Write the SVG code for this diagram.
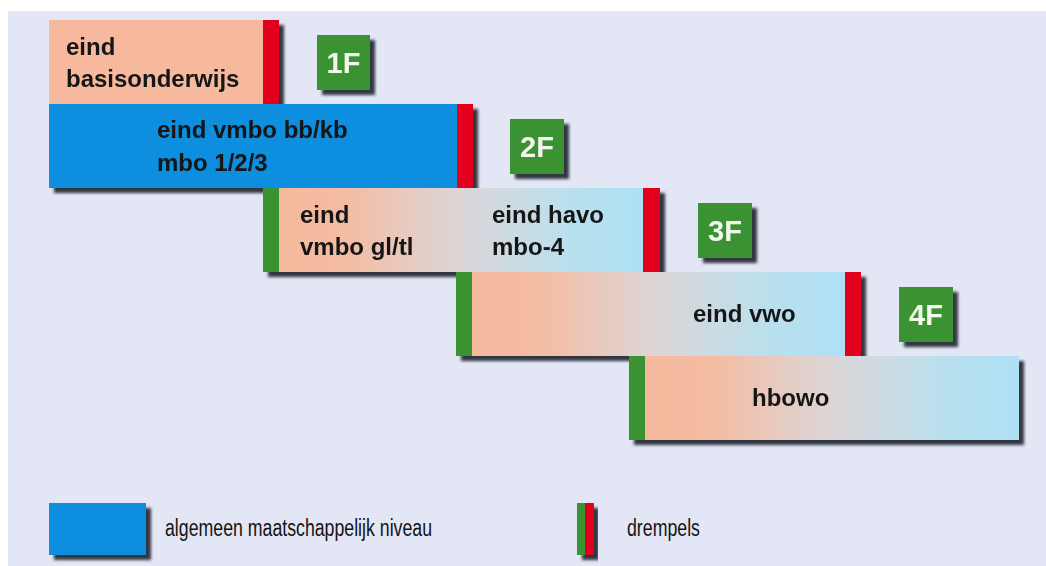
<svg xmlns="http://www.w3.org/2000/svg" width="1046" height="566" viewBox="0 0 1046 566">
<defs>
<style>
.lbl{font-family:"Liberation Sans",Arial,sans-serif;font-weight:bold;font-size:24px;fill:#141414}
.badge-t{font-family:"Liberation Sans",Arial,sans-serif;font-weight:bold;font-size:29px;fill:#f2f8ec;text-anchor:middle}
.leg{font-family:"Liberation Sans",Arial,sans-serif;font-size:23px;fill:#141414}
.peach{fill:#f6b99e}
.blue{fill:#0b8ede}
.red{fill:#e2001a}
.green{fill:#3a9232}
.grad{fill:url(#g)}
</style>
<linearGradient id="g" x1="0" y1="0" x2="1" y2="0">
<stop offset="0" stop-color="#f6b99e"/>
<stop offset="0.18" stop-color="#f4bca2"/>
<stop offset="0.5" stop-color="#dcd6d8"/>
<stop offset="0.8" stop-color="#b9e0ee"/>
<stop offset="1" stop-color="#aee0f4"/>
</linearGradient>
<filter id="sh" x="-10%" y="-10%" width="130%" height="140%">
<feGaussianBlur in="SourceAlpha" stdDeviation="1.6" result="b"/>
<feOffset in="b" dx="5" dy="5" result="o"/>
<feFlood flood-color="#20232e" flood-opacity="0.9"/>
<feComposite in2="o" operator="in" result="s"/>
<feMerge><feMergeNode in="s"/><feMergeNode in="SourceGraphic"/></feMerge>
</filter>
</defs>
<rect x="0" y="0" width="1046" height="566" fill="#ffffff"/>
<rect x="8" y="11" width="1038" height="555" fill="#e3e6f4"/>

<g id="connectors"></g>

<g id="box-basis" filter="url(#sh)">
<rect class="peach" x="49" y="20" width="214" height="84"/>
<rect class="red" x="263" y="20" width="16" height="84"/>
<text class="lbl" x="66" y="55">eind</text>
<text class="lbl" x="66" y="87">basisonderwijs</text>
</g>
<g id="badge-1f" filter="url(#sh)">
<rect class="green" x="317" y="35" width="53" height="55"/>
<text class="badge-t" x="343.5" y="73">1F</text>
</g>

<g id="box-vmbo-bbkb" filter="url(#sh)">
<rect class="blue" x="49" y="104" width="408" height="84"/>
<rect class="red" x="457" y="104" width="16" height="84"/>
<text class="lbl" x="157" y="138">eind vmbo bb/kb</text>
<text class="lbl" x="157" y="171">mbo 1/2/3</text>
</g>
<g id="badge-2f" filter="url(#sh)">
<rect class="green" x="510" y="119" width="54" height="55"/>
<text class="badge-t" x="537" y="157">2F</text>
</g>

<g id="box-havo" filter="url(#sh)">
<rect class="green" x="263" y="188" width="16" height="84"/>
<rect class="grad" x="279" y="188" width="364" height="84"/>
<rect class="red" x="643" y="188" width="17" height="84"/>
<text class="lbl" x="300" y="223">eind</text>
<text class="lbl" x="300" y="255">vmbo gl/tl</text>
<text class="lbl" x="492" y="223">eind havo</text>
<text class="lbl" x="492" y="255">mbo-4</text>
</g>
<g id="badge-3f" filter="url(#sh)">
<rect class="green" x="698" y="203" width="54" height="55"/>
<text class="badge-t" x="725" y="241">3F</text>
</g>

<g id="box-vwo" filter="url(#sh)">
<rect class="green" x="456" y="272" width="16" height="84"/>
<rect class="grad" x="472" y="272" width="373" height="84"/>
<rect class="red" x="845" y="272" width="16" height="84"/>
<text class="lbl" x="693" y="322">eind vwo</text>
</g>
<g id="badge-4f" filter="url(#sh)">
<rect class="green" x="899" y="287" width="54" height="55"/>
<text class="badge-t" x="926" y="325">4F</text>
</g>

<g id="box-hbowo" filter="url(#sh)">
<rect class="green" x="629" y="356" width="16" height="84"/>
<rect class="grad" x="645" y="356" width="374" height="84"/>
<text class="lbl" x="752" y="406">hbowo</text>
</g>

<g id="legend-niveau">
<rect class="blue" x="49" y="503" width="97" height="52" filter="url(#sh)"/>
<text class="leg" x="165" y="536" textLength="267" lengthAdjust="spacingAndGlyphs">algemeen maatschappelijk niveau</text>
</g>
<g id="legend-drempels">
<g filter="url(#sh)">
<rect class="green" x="577" y="503" width="8" height="52"/>
<rect class="red" x="585" y="503" width="9" height="52"/>
</g>
<text class="leg" x="627" y="536" textLength="73" lengthAdjust="spacingAndGlyphs">drempels</text>
</g>
</svg>
